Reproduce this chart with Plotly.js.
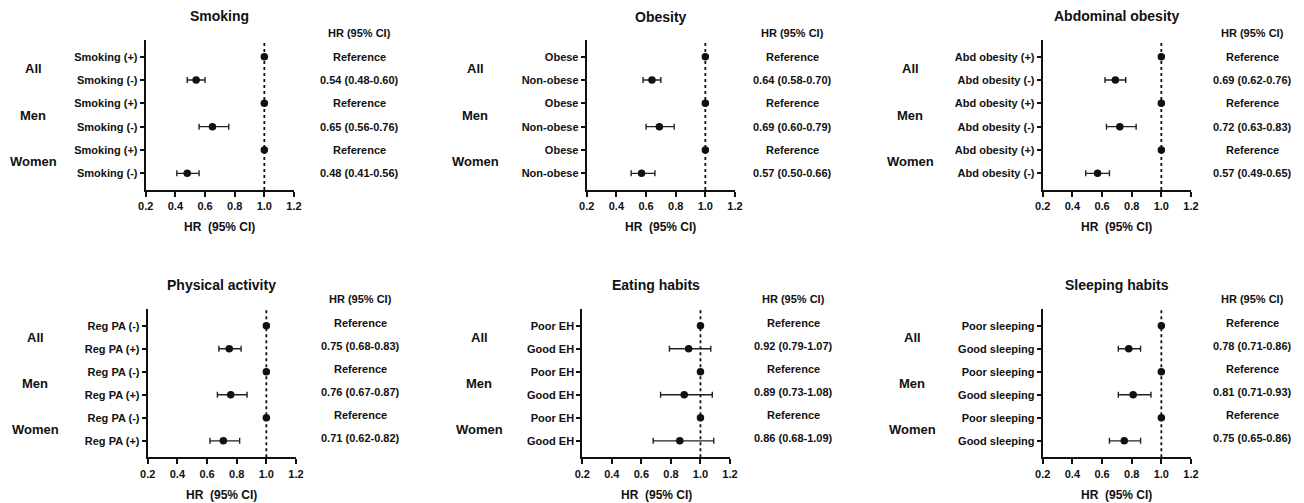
<!DOCTYPE html>
<html>
<head>
<meta charset="utf-8">
<script src="https://cdn.plot.ly/plotly-3.0.1.min.js"></script>
<style>
html,body{margin:0;padding:0;background:#fff;}
#chart{width:1304px;height:503px;}
</style>
</head>
<body>
<div id="chart"></div>
<script>
const panelTitles = ["Smoking", "Obesity", "Abdominal obesity", "Physical activity", "Eating habits", "Sleeping habits"];
const groups = ["All", "Men", "Women"];

const rowLabels = [
  ["Smoking (+)", "Smoking (-)", "Smoking (+)", "Smoking (-)", "Smoking (+)", "Smoking (-)"],
  ["Obese", "Non-obese", "Obese", "Non-obese", "Obese", "Non-obese"],
  ["Abd obesity (+)", "Abd obesity (-)", "Abd obesity (+)", "Abd obesity (-)", "Abd obesity (+)", "Abd obesity (-)"],
  ["Reg PA (-)", "Reg PA (+)", "Reg PA (-)", "Reg PA (+)", "Reg PA (-)", "Reg PA (+)"],
  ["Poor EH", "Good EH", "Poor EH", "Good EH", "Poor EH", "Good EH"],
  ["Poor sleeping", "Good sleeping", "Poor sleeping", "Good sleeping", "Poor sleeping", "Good sleeping"]
];

const hrSmoking = [1, 0.54, 1, 0.65, 1, 0.48];
const loSmoking = [null, 0.48, null, 0.56, null, 0.41];
const hiSmoking = [null, 0.60, null, 0.76, null, 0.56];

const hrObesity = [1, 0.64, 1, 0.69, 1, 0.57];
const loObesity = [null, 0.58, null, 0.60, null, 0.50];
const hiObesity = [null, 0.70, null, 0.79, null, 0.66];

const hrAbd = [1, 0.69, 1, 0.72, 1, 0.57];
const loAbd = [null, 0.62, null, 0.63, null, 0.49];
const hiAbd = [null, 0.76, null, 0.83, null, 0.65];

const hrPA = [1, 0.75, 1, 0.76, 1, 0.71];
const loPA = [null, 0.68, null, 0.67, null, 0.62];
const hiPA = [null, 0.83, null, 0.87, null, 0.82];

const hrEH = [1, 0.92, 1, 0.89, 1, 0.86];
const loEH = [null, 0.79, null, 0.73, null, 0.68];
const hiEH = [null, 1.07, null, 1.08, null, 1.09];

const hrSleep = [1, 0.78, 1, 0.81, 1, 0.75];
const loSleep = [null, 0.71, null, 0.71, null, 0.65];
const hiSleep = [null, 0.86, null, 0.93, null, 0.86];

const xTickVals = [0.2, 0.4, 0.6, 0.8, 1.0, 1.2];
const xTickText = ["0.2", "0.4", "0.6", "0.8", "1.0", "1.2"];
const headerText = "HR (95% CI)";
const refText = "Reference";
const xTitleText = "HR\u00A0\u00A0(95% CI)";

const hrSets = [hrSmoking, hrObesity, hrAbd, hrPA, hrEH, hrSleep];
const loSets = [loSmoking, loObesity, loAbd, loPA, loEH, loSleep];
const hiSets = [hiSmoking, hiObesity, hiAbd, hiPA, hiEH, hiSleep];

// layout geometry (pixels)
const W = 1304, H = 503;
const geo = [
  {x0:145.7, x1:294,   y0:40,    y1:190,   hrX:359,    grpX:33,  hdrY:33,  titleY:16,  xtY:227, shift:0},
  {x0:586.7, x1:735,   y0:40,    y1:190,   hrX:792.7,  grpX:475, hdrY:33,  titleY:17,  xtY:227, shift:0},
  {x0:1042.7,x1:1191,  y0:40,    y1:190,   hrX:1252.7, grpX:910, hdrY:33,  titleY:16,  xtY:227, shift:0},
  {x0:147.7, x1:296,   y0:309.3, y1:457.3, hrX:360,    grpX:35,  hdrY:299, titleY:285, xtY:495, shift:3},
  {x0:582.3, x1:730,   y0:309.3, y1:457.3, hrX:793.3,  grpX:479, hdrY:299, titleY:285, xtY:495, shift:3},
  {x0:1042.7,x1:1191,  y0:309.3, y1:457.3, hrX:1252.7, grpX:912, hdrY:299, titleY:285, xtY:495, shift:3}
];

const FONT = "Liberation Sans, Arial, sans-serif";
const TXT = "#111";
const rows = [1, 2, 3, 4, 5, 6];

const data = [];
const layout = {
  width: W, height: H,
  margin: {l:0, r:0, t:0, b:0},
  paper_bgcolor: "#fff", plot_bgcolor: "#fff",
  showlegend: false,
  font: {family: FONT, size: 11, color: TXT},
  shapes: [], annotations: []
};

const px = v => v / W;
const py = v => 1 - v / H;

for (let p = 0; p < 6; p++) {
  const g = geo[p];
  const sfx = p === 0 ? "" : String(p + 1);
  const xa = "x" + sfx, ya = "y" + sfx;
  const hr = hrSets[p], lo = loSets[p], hi = hiSets[p];
  const plus = hr.map((v, i) => hi[i] == null ? 0 : hi[i] - v);
  const minus = hr.map((v, i) => lo[i] == null ? 0 : v - lo[i]);
  data.push({
    type: "scatter", mode: "markers",
    x: hr, y: rows, xaxis: xa, yaxis: ya,
    marker: {symbol: "circle", size: 7.5, color: "#111"},
    error_x: {type: "data", symmetric: false, array: plus, arrayminus: minus,
              color: "#222", thickness: 1.4, width: 3},
    hoverinfo: "skip"
  });
  layout["xaxis" + sfx] = {
    domain: [px(g.x0), px(g.x1)], anchor: ya,
    range: [0.2, 1.2], tickvals: xTickVals, ticktext: xTickText,
    showline: true, linecolor: "#111", linewidth: 2, mirror: false,
    ticks: "outside", ticklen: 5, tickwidth: 2, tickcolor: "#111",
    showgrid: false, zeroline: false, fixedrange: true,
    tickfont: {family: FONT, size: 11, color: TXT, weight: "bold"}
  };
  layout["yaxis" + sfx] = {
    domain: [py(g.y1), py(g.y0)], anchor: xa,
    range: [6.714, 0.286], tickvals: rows, ticktext: rowLabels[p],
    showline: true, linecolor: "#111", linewidth: 2,
    ticks: "outside", ticklen: 4, tickwidth: 2, tickcolor: "#111",
    showgrid: false, zeroline: false, fixedrange: true,
    tickfont: {family: FONT, size: 11, color: TXT, weight: "bold"}
  };
  // dotted reference line
  layout.shapes.push({type: "line", xref: xa, yref: ya + " domain",
    x0: 1, x1: 1, y0: 0, y1: 1, line: {color: "#111", width: 1.8, dash: "dot"}});
  const cx = (g.x0 + g.x1) / 2;
  // panel title
  layout.annotations.push({xref: "paper", yref: "paper", x: px(cx), y: py(g.titleY),
    text: "<b>" + panelTitles[p] + "</b>", showarrow: false, xanchor: "center", yanchor: "middle",
    font: {family: FONT, size: 14, color: TXT}});
  // x title
  layout.annotations.push({xref: "paper", yref: "paper", x: px(cx), y: py(g.xtY),
    text: "<b>" + xTitleText + "</b>", showarrow: false, xanchor: "center", yanchor: "middle",
    font: {family: FONT, size: 12, color: TXT}});
  // header
  layout.annotations.push({xref: "paper", yref: "paper", x: px(g.hrX), y: py(g.hdrY),
    text: "<b>" + headerText + "</b>", showarrow: false, xanchor: "center", yanchor: "middle",
    font: {family: FONT, size: 11, color: TXT}});
  // group labels
  groups.forEach((gr, k) => {
    layout.annotations.push({xref: "paper", yref: ya, x: px(g.grpX), y: 1.5 + 2 * k,
      text: "<b>" + gr + "</b>", showarrow: false, xanchor: "center", yanchor: "middle",
      font: {family: FONT, size: 13, color: TXT}});
  });
  // HR texts
  hr.forEach((v, i) => {
    const t = lo[i] == null ? refText :
      v.toFixed(2) + " (" + lo[i].toFixed(2) + "-" + hi[i].toFixed(2) + ")";
    layout.annotations.push({xref: "paper", yref: ya, x: px(g.hrX), y: rows[i],
      yshift: g.shift, text: "<b>" + t + "</b>", showarrow: false,
      xanchor: "center", yanchor: "middle",
      font: {family: FONT, size: 11, color: TXT}});
  });
}

Plotly.newPlot("chart", data, layout, {staticPlot: true, displayModeBar: false});
</script>
</body>
</html>
